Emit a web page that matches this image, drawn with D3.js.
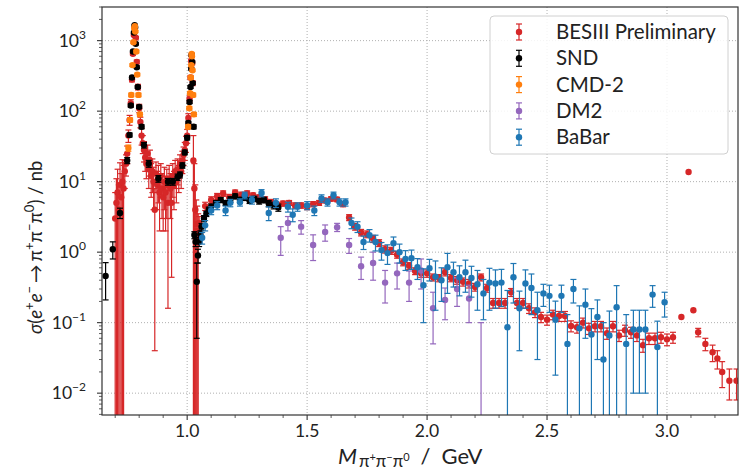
<!DOCTYPE html>
<html>
<head>
<meta charset="utf-8">
<script src="https://cdn.jsdelivr.net/npm/d3@7/dist/d3.min.js"></script>
<style>
body { margin: 0; background: #fff; }
svg { font-family: Lato, 'DejaVu Sans', sans-serif; }
</style>
</head>
<body>
<div id="chart"></div>
<script>
// each point: [mass GeV, sigma nb, error nb]
let besiii = [
	[0.700, 3.0, 4.0], [0.705, 5.0, 6.0], [0.710, 7.0, 8.0], [0.715, 4.0, 5.0], [0.720, 9.0, 9.5],
	[0.725, 6.0, 7.0], [0.730, 10, 10.5], [0.735, 8, 9], [0.740, 14, 6], [0.745, 18, 6],
	[0.750, 25, 7], [0.755, 45, 9], [0.760, 75, 12], [0.765, 130, 15], [0.770, 280, 20],
	[0.774, 650, 30], [0.778, 1200, 40], [0.782, 1550, 45], [0.786, 1100, 40], [0.790, 500, 30],
	[0.795, 220, 20], [0.800, 110, 15], [0.805, 70, 12], [0.810, 45, 12], [0.815, 35, 10],
	[0.820, 28, 9], [0.825, 22, 8], [0.830, 18, 7], [0.835, 25, 8], [0.840, 15, 7],
	[0.845, 20, 8], [0.850, 12, 6], [0.855, 14, 7], [0.860, 10, 6], [0.865, 4, 3.96],
	[0.870, 13, 6], [0.875, 9, 5], [0.880, 11, 6], [0.885, 7, 5], [0.890, 12, 6],
	[0.895, 8, 5], [0.900, 6, 4], [0.905, 10, 6], [0.910, 7, 5], [0.915, 9, 6],
	[0.920, 5, 4.84], [0.925, 11, 6], [0.930, 8, 5], [0.935, 5, 4.56], [0.940, 12, 6],
	[0.945, 9, 5], [0.950, 14, 6], [0.955, 10, 5], [0.960, 15, 6], [0.965, 12, 5],
	[0.970, 18, 6], [0.975, 14, 6], [0.980, 20, 7], [0.985, 24, 7], [0.990, 28, 8],
	[0.995, 35, 9], [1.000, 45, 10], [1.005, 80, 12], [1.010, 150, 15], [1.014, 300, 20],
	[1.017, 520, 25], [1.019, 620, 30], [1.021, 480, 25], [1.023, 250, 20], [1.026, 20, 25],
	[1.030, 8, 10], [1.034, 4, 5], [1.038, 2.5, 3], [1.042, 2, 2.5], [1.046, 1.5, 2],
	[1.050, 2.6, 0.6], [1.075, 4.5, 0.6], [1.100, 5.5, 0.6], [1.125, 6.2, 0.6], [1.150, 6.8, 0.6],
	[1.175, 6.0, 0.6], [1.200, 7.0, 0.6], [1.225, 6.5, 0.6], [1.250, 6.8, 0.6], [1.275, 6.4, 0.5],
	[1.300, 6.0, 0.5], [1.325, 5.6, 0.5], [1.350, 5.1, 0.5], [1.375, 4.7, 0.4], [1.400, 4.9, 0.4],
	[1.425, 5.0, 0.4], [1.450, 4.6, 0.4], [1.475, 4.6, 0.4], [1.500, 4.4, 0.4], [1.525, 4.8, 0.4],
	[1.550, 5.0, 0.4], [1.575, 5.4, 0.4], [1.600, 5.7, 0.4], [1.625, 5.6, 0.4], [1.650, 4.8, 0.4],
	[1.675, 3.1, 0.3], [1.700, 2.3, 0.25], [1.725, 1.9, 0.2], [1.750, 1.8, 0.2], [1.775, 1.55, 0.18],
	[1.800, 1.35, 0.15], [1.825, 1.1, 0.13], [1.850, 1.05, 0.12], [1.875, 0.92, 0.1], [1.900, 0.72, 0.08],
	[1.925, 0.64, 0.07], [1.950, 0.54, 0.06], [1.975, 0.50, 0.06], [2.000, 0.50, 0.06], [2.025, 0.44, 0.05],
	[2.050, 0.43, 0.05], [2.075, 0.52, 0.06], [2.100, 0.43, 0.05], [2.125, 0.40, 0.05], [2.150, 0.38, 0.05],
	[2.175, 0.36, 0.05], [2.200, 0.32, 0.04], [2.225, 0.44, 0.05], [2.250, 0.31, 0.04], [2.275, 0.19, 0.03],
	[2.300, 0.19, 0.03], [2.325, 0.19, 0.03], [2.350, 0.27, 0.035], [2.375, 0.19, 0.03], [2.400, 0.19, 0.03],
	[2.425, 0.16, 0.025], [2.450, 0.14, 0.022], [2.475, 0.12, 0.02], [2.500, 0.11, 0.018], [2.525, 0.13, 0.02],
	[2.550, 0.124, 0.02], [2.575, 0.124, 0.02], [2.600, 0.09, 0.016], [2.625, 0.086, 0.015], [2.650, 0.10, 0.016],
	[2.675, 0.083, 0.015], [2.700, 0.089, 0.015], [2.725, 0.089, 0.015], [2.750, 0.071, 0.013], [2.775, 0.089, 0.015],
	[2.800, 0.066, 0.012], [2.825, 0.078, 0.014], [2.850, 0.073, 0.013], [2.875, 0.066, 0.012], [2.900, 0.048, 0.01],
	[2.925, 0.06, 0.011], [2.950, 0.06, 0.011], [2.975, 0.062, 0.011], [3.000, 0.058, 0.011], [3.025, 0.062, 0.011],
	[3.060, 0.12, 0], [3.090, 13.7, 0], [3.110, 0.15, 0], [3.130, 0.073, 0.01], [3.160, 0.05, 0.01],
	[3.190, 0.038, 0.01], [3.210, 0.031, 0.009], [3.230, 0.020, 0.008], [3.260, 0.015, 0.007], [3.290, 0.015, 0.007]
];

let snd = [
	[0.660, 0.46, 0.25], [0.690, 1.1, 0.3], [0.720, 3.6, 0.6], [0.750, 20, 2], [0.760, 46, 3],
	[0.765, 120, 6], [0.770, 300, 12], [0.774, 700, 25], [0.778, 1300, 40], [0.781, 1650, 50],
	[0.783, 1550, 50], [0.786, 900, 30], [0.790, 420, 18], [0.794, 220, 10], [0.800, 115, 6],
	[0.810, 60, 4], [0.820, 33, 3], [0.840, 18, 2], [0.880, 11, 1.2], [0.920, 10, 1.1],
	[0.940, 10, 1.1], [0.960, 11.6, 1.2], [0.970, 12.5, 1.2], [0.980, 17, 1.5], [0.990, 26, 2],
	[1.000, 42, 3], [1.005, 68, 4], [1.010, 135, 7], [1.014, 220, 10], [1.017, 400, 15],
	[1.019, 620, 25], [1.021, 500, 20], [1.023, 250, 12], [1.027, 60, 4], [1.030, 1.75, 0.2],
	[1.035, 1.4, 0.2], [1.040, 0.38, 0.32], [1.045, 0.9, 0.2], [1.050, 1.4, 0.2], [1.055, 1.8, 0.2],
	[1.060, 2.3, 0.25], [1.070, 3.0, 0.3], [1.080, 3.5, 0.3], [1.090, 4.0, 0.35], [1.100, 4.4, 0.4],
	[1.120, 5.0, 0.4], [1.140, 5.5, 0.45], [1.160, 5.0, 0.4], [1.180, 5.6, 0.5], [1.200, 6.2, 0.5],
	[1.220, 5.5, 0.5], [1.240, 5.9, 0.5], [1.260, 5.4, 0.5], [1.280, 5.7, 0.5], [1.300, 5.3, 0.5],
	[1.320, 5.5, 0.5], [1.340, 4.9, 0.5], [1.360, 4.6, 0.5], [1.380, 4.3, 0.5]
];

let cmd2 = [
	[0.755, 30, 3], [0.762, 75, 5], [0.767, 170, 10], [0.772, 450, 20], [0.776, 950, 35],
	[0.780, 1500, 50], [0.782, 1600, 50], [0.784, 1350, 45], [0.788, 700, 30], [0.792, 330, 15],
	[0.797, 170, 10], [0.803, 90, 6],
	[1.004, 60, 4], [1.009, 110, 6], [1.012, 180, 8], [1.015, 300, 12], [1.017, 450, 18],
	[1.019, 650, 25], [1.020, 600, 25], [1.022, 380, 15], [1.025, 170, 10], [1.028, 90, 6]
];

let dm2 = [
	[1.390, 1.6, 0.7], [1.420, 2.6, 0.6], [1.475, 2.3, 0.5], [1.525, 1.26, 0.5], [1.575, 1.93, 0.5],
	[1.625, 2.26, 0.3], [1.675, 1.26, 0.3], [1.725, 0.63, 0.22], [1.775, 0.70, 0.3], [1.825, 0.37, 0.18],
	[1.875, 0.50, 0.2], [1.925, 0.37, 0.17], [1.975, 0.55, 0.25], [2.025, 0.16, 0.11], [2.075, 0.21, 0.1],
	[2.125, 0.30, 0.13], [2.175, 0.22, 0.12], [2.225, 0, 0.1]
];

let babar = [
	[1.0625, 1.6, 0.3], [1.075, 2.4, 0.4], [1.100, 3.9, 0.5], [1.125, 4.6, 0.6], [1.160, 3.9, 0.6],
	[1.180, 5.0, 0.6], [1.220, 5.1, 0.6], [1.240, 6.4, 0.7], [1.270, 5.5, 0.7], [1.310, 6.9, 0.8],
	[1.340, 3.6, 0.8], [1.370, 5.0, 0.7], [1.420, 4.4, 0.7], [1.440, 3.4, 0.7], [1.460, 4.4, 0.6],
	[1.500, 4.6, 0.6], [1.530, 3.9, 0.6], [1.560, 5.8, 0.7], [1.585, 5.1, 0.6], [1.610, 6.4, 0.7],
	[1.635, 5.1, 0.6], [1.660, 5.1, 0.6], [1.685, 2.6, 0.45], [1.710, 2.3, 0.4], [1.735, 1.39, 0.3],
	[1.760, 1.74, 0.35], [1.785, 1.39, 0.35], [1.810, 1.07, 0.3], [1.835, 0.97, 0.3], [1.860, 1.34, 0.3],
	[1.885, 1.0, 0.3], [1.910, 0.80, 0.25], [1.935, 0.82, 0.25], [1.960, 0.61, 0.2], [1.985, 0.34, 0.24],
	[2.010, 0.59, 0.2], [2.035, 0.45, 0.3], [2.060, 0.40, 0.2], [2.085, 0.61, 0.35], [2.110, 0.52, 0.2],
	[2.135, 0.44, 0.2], [2.160, 0.52, 0.25], [2.185, 0.43, 0.2], [2.210, 0.35, 0.2], [2.235, 0.26, 0.15],
	[2.260, 0.37, 0.22], [2.285, 0.36, 0.2], [2.310, 0.37, 0.2], [2.335, 0.086, 0.2], [2.360, 0.44, 0.25],
	[2.385, 0.16, 0.12], [2.410, 0.36, 0.2], [2.435, 0.31, 0.18], [2.460, 0.15, 0.12], [2.485, 0.26, 0.09],
	[2.510, 0.24, 0.10], [2.535, 0.11, 0.092], [2.560, 0.24, 0.10], [2.585, 0.05, 0.08], [2.610, 0.30, 0.11],
	[2.635, 0.083, 0.09], [2.660, 0.18, 0.12], [2.685, 0.068, 0.09], [2.710, 0.12, 0.09], [2.735, 0.03, 0.07],
	[2.760, 0.066, 0.08], [2.790, 0.165, 0.17], [2.830, 0.05, 0.08], [2.860, 0.08, 0.07], [2.885, 0.08, 0.07],
	[2.910, 0.08, 0.07], [2.940, 0.25, 0.085], [2.960, 0.045, 0.06], [2.990, 0.195, 0.075]
];

let series = [
	{name: 'BESIII Preliminary', color: '#d62728', data: besiii},
	{name: 'SND', color: '#000000', data: snd},
	{name: 'CMD-2', color: '#ff7f0e', data: cmd2},
	{name: 'DM2', color: '#9467bd', data: dm2},
	{name: 'BaBar', color: '#1f77b4', data: babar}
];

let xTicks = [1.0, 1.5, 2.0, 2.5, 3.0];
let yExps = [-2, -1, 0, 1, 2, 3];

let width = 742;
let height = 470;
let pLeft = 102, pRight = 738, pTop = 7, pBottom = 415;

let svg = d3.select('#chart')
	.append('svg')
	.attr('width', width)
	.attr('height', height);

let x = d3.scaleLinear()
	.domain([0.645, 3.296])
	.range([pLeft, pRight]);

let y = d3.scaleLog()
	.domain([0.0049, 3000])
	.range([pBottom, pTop]);

svg.append('clipPath')
	.attr('id', 'plotclip')
	.append('rect')
	.attr('x', pLeft).attr('y', pTop)
	.attr('width', pRight - pLeft).attr('height', pBottom - pTop);

// grid
for(let i = 0; i < xTicks.length; i++){
	svg.append('line')
		.attr('x1', x(xTicks[i])).attr('x2', x(xTicks[i]))
		.attr('y1', pTop).attr('y2', pBottom)
		.attr('stroke', '#b0b0b0').attr('stroke-width', 1).attr('stroke-dasharray', '1,2');
}
for(let i = 0; i < yExps.length; i++){
	let v = Math.pow(10, yExps[i]);
	svg.append('line')
		.attr('x1', pLeft).attr('x2', pRight)
		.attr('y1', y(v)).attr('y2', y(v))
		.attr('stroke', '#b0b0b0').attr('stroke-width', 1).attr('stroke-dasharray', '1,2');
}

let plot = svg.append('g').attr('clip-path', 'url(#plotclip)');

function drawSeries(s){
	let g = plot.append('g');
	s.data.forEach(function(d){
		let m = d[0], v = d[1], e = d[2];
		let px = x(m);
		if(e > 0){
			let hi = v + e, lo = v - e;
			let yHi = y(hi);
			let yLo = lo > 0 ? y(lo) : pBottom + 10;
			g.append('line')
				.attr('x1', px).attr('x2', px)
				.attr('y1', yHi).attr('y2', yLo)
				.attr('stroke', s.color).attr('stroke-width', 1.2);
			g.append('line')
				.attr('x1', px - 3).attr('x2', px + 3)
				.attr('y1', yHi).attr('y2', yHi)
				.attr('stroke', s.color).attr('stroke-width', 1.2);
			if(lo > 0){
				g.append('line')
					.attr('x1', px - 3).attr('x2', px + 3)
					.attr('y1', yLo).attr('y2', yLo)
					.attr('stroke', s.color).attr('stroke-width', 1.2);
			}
		}
		if(v > 0){
			g.append('circle')
				.attr('cx', px).attr('cy', y(v))
				.attr('r', 3.2)
				.attr('fill', s.color);
		}
	});
}

series.forEach(drawSeries);

// frame
svg.append('rect')
	.attr('x', pLeft).attr('y', pTop)
	.attr('width', pRight - pLeft).attr('height', pBottom - pTop)
	.attr('fill', 'none').attr('stroke', '#333').attr('stroke-width', 1.2);

// x ticks
for(let t = 0.7; t < 3.25; t += 0.1){
	let tt = Math.round(t * 10) / 10;
	let major = xTicks.indexOf(tt) >= 0;
	svg.append('line')
		.attr('x1', x(tt)).attr('x2', x(tt))
		.attr('y1', pBottom).attr('y2', pBottom + (major ? 5 : 3))
		.attr('stroke', '#333').attr('stroke-width', major ? 1.1 : 0.8);
}
for(let i = 0; i < xTicks.length; i++){
	svg.append('text')
		.attr('x', x(xTicks[i]))
		.attr('y', pBottom + 22)
		.attr('text-anchor', 'middle')
		.attr('font-size', 17.5)
		.attr('fill', '#222')
		.text(xTicks[i].toFixed(1));
}

// y ticks
for(let k = -3; k <= 3; k++){
	for(let j = 1; j <= 9; j++){
		let v = j * Math.pow(10, k);
		if(v < 0.0049 || v > 3000) continue;
		svg.append('line')
			.attr('x1', pLeft).attr('x2', pLeft - (j === 1 ? 5 : 3))
			.attr('y1', y(v)).attr('y2', y(v))
			.attr('stroke', '#333').attr('stroke-width', j === 1 ? 1.1 : 0.8);
	}
}
for(let i = 0; i < yExps.length; i++){
	let t = svg.append('text')
		.attr('x', pLeft - 16)
		.attr('y', y(Math.pow(10, yExps[i])) + 6)
		.attr('text-anchor', 'end')
		.attr('font-size', 17.5)
		.attr('fill', '#222');
	t.append('tspan').text('10');
	t.append('tspan')
		.attr('dy', -8)
		.attr('font-size', 12)
		.text(yExps[i] < 0 ? '\u2212' + Math.abs(yExps[i]) : yExps[i]);
}

// x label
let xl = svg.append('text')
	.attr('x', 338)
	.attr('y', 464)
	.attr('font-size', 22)
	.attr('fill', '#222');
xl.append('tspan').attr('font-style', 'italic').text('M');
xl.append('tspan').attr('dy', 3).attr('dx', 2).attr('font-size', 17).text('\u03c0');
xl.append('tspan').attr('dy', -6).attr('font-size', 11).text('+');
xl.append('tspan').attr('dy', 6).attr('font-size', 17).text('\u03c0');
xl.append('tspan').attr('dy', -6).attr('font-size', 11).text('\u2212');
xl.append('tspan').attr('dy', 6).attr('font-size', 17).text('\u03c0');
xl.append('tspan').attr('dy', -6).attr('font-size', 11).text('0');
xl.append('tspan').attr('dy', 3).attr('dx', 11).text('/');
xl.append('tspan').attr('dx', 11).text('GeV');

// y label, read upward from the bottom
let yl = svg.append('text')
	.attr('transform', 'translate(42,334) rotate(-90)')
	.attr('font-size', 18.5)
	.attr('fill', '#222');
yl.append('tspan').attr('font-style', 'italic').text('\u03c3');
yl.append('tspan').text('(');
yl.append('tspan').attr('font-style', 'italic').text('e');
yl.append('tspan').attr('dy', -8).attr('font-size', 13).text('+');
yl.append('tspan').attr('dy', 8).attr('font-style', 'italic').text('e');
yl.append('tspan').attr('dy', -8).attr('font-size', 13).text('\u2212');
yl.append('tspan').attr('dy', 8).attr('dx', 3).text('\u2192');
yl.append('tspan').attr('dx', 3).text('\u03c0');
yl.append('tspan').attr('dy', -8).attr('font-size', 13).text('+');
yl.append('tspan').attr('dy', 8).text('\u03c0');
yl.append('tspan').attr('dy', -8).attr('font-size', 13).text('\u2212');
yl.append('tspan').attr('dy', 8).text('\u03c0');
yl.append('tspan').attr('dy', -8).attr('font-size', 13).text('0');
yl.append('tspan').attr('dy', 8).text(')');
yl.append('tspan').attr('dx', 5).text('/');
yl.append('tspan').attr('dx', 5).text('nb');

// legend
let legend = svg.append('g');
legend.append('rect')
	.attr('x', 490).attr('y', 16)
	.attr('width', 238).attr('height', 138)
	.attr('rx', 4)
	.attr('fill', '#fff').attr('fill-opacity', 0.85)
	.attr('stroke', '#d0d0d0');
series.forEach(function(s, i){
	let ly = 32 + i * 26.3;
	legend.append('line')
		.attr('x1', 519).attr('x2', 519)
		.attr('y1', ly - 8).attr('y2', ly + 8)
		.attr('stroke', s.color).attr('stroke-width', 1.2);
	legend.append('line')
		.attr('x1', 516).attr('x2', 522)
		.attr('y1', ly - 8).attr('y2', ly - 8)
		.attr('stroke', s.color).attr('stroke-width', 1.2);
	legend.append('line')
		.attr('x1', 516).attr('x2', 522)
		.attr('y1', ly + 8).attr('y2', ly + 8)
		.attr('stroke', s.color).attr('stroke-width', 1.2);
	legend.append('circle')
		.attr('cx', 519).attr('cy', ly)
		.attr('r', 3.2)
		.attr('fill', s.color);
	legend.append('text')
		.attr('x', 556).attr('y', ly + 7)
		.attr('font-size', 20.5)
		.attr('fill', '#222')
		.text(s.name);
});
</script>
</body>
</html>
